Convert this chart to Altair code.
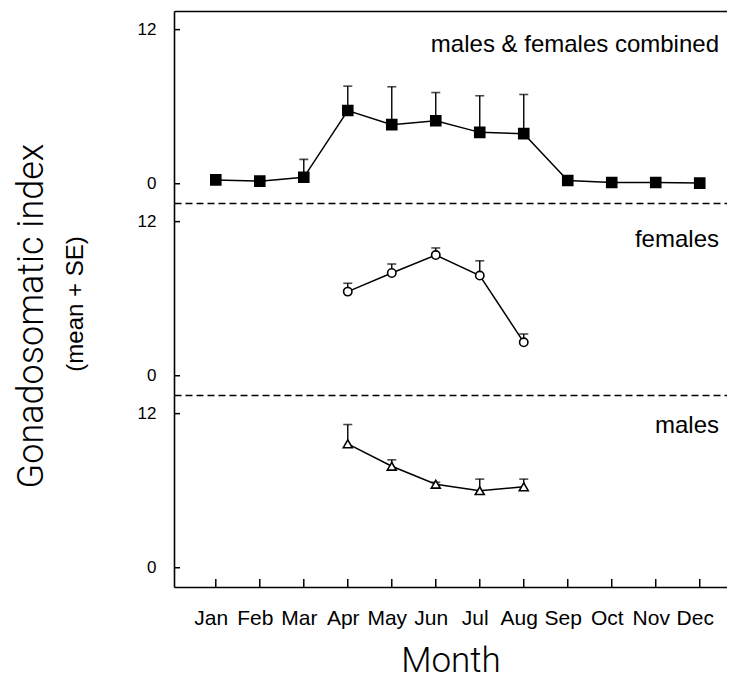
import json
import altair as alt
import pandas as pd

# ---------------- data ----------------
MONTHS = ["Jan", "Feb", "Mar", "Apr", "May", "Jun", "Jul", "Aug", "Sep", "Oct", "Nov", "Dec"]
MONTH_NUM = list(range(1, 13))

COMBINED_MEAN = [0.3, 0.2, 0.5, 5.7, 4.6, 4.9, 4.0, 3.9, 0.25, 0.1, 0.1, 0.05]
COMBINED_SE = [0, 0, 1.4, 1.9, 2.95, 2.2, 2.85, 3.05, 0, 0, 0, 0]

FEMALE_MONTH_NUM = [4, 5, 6, 7, 8]
FEMALE_MEAN = [6.55, 8.0, 9.4, 7.8, 2.6]
FEMALE_SE = [0.65, 0.7, 0.55, 1.15, 0.65]

MALE_MONTH_NUM = [4, 5, 6, 7, 8]
MALE_MEAN = [9.65, 7.9, 6.5, 6.0, 6.3]
MALE_SE = [1.5, 0.5, 0.15, 0.9, 0.6]

Y_TICKS = [0, 12]
PANEL_LABELS = ["males & females combined", "females", "males"]
Y_TITLE = "Gonadosomatic index"
Y_SUBTITLE = "(mean + SE)"
X_TITLE = "Month"


def frame(months, mean, se):
    return pd.DataFrame({
        "m": months,
        "mean": mean,
        "se": se,
        "top": [a + b for a, b in zip(mean, se)],
    })


df_comb = frame(MONTH_NUM, COMBINED_MEAN, COMBINED_SE)
df_fem = frame(FEMALE_MONTH_NUM, FEMALE_MEAN, FEMALE_SE)
df_male = frame(MALE_MONTH_NUM, MALE_MEAN, MALE_SE)
df_yticks = pd.DataFrame({"v": Y_TICKS})
df_xticks = pd.DataFrame({"m": MONTH_NUM})

# ---------------- style ----------------
W, H = 553, 192
LABEL_FONT = "Liberation Sans"
TITLE_FONT = "Roboto"
xscale = alt.Scale(domain=[0.05, 12.62], nice=False, zero=False)
yscale = alt.Scale(domain=[-1.5, 13.45], nice=False, zero=False)

yaxis = alt.Axis(
    orient="left", values=Y_TICKS, title=None, grid=False, ticks=False, tickSize=0,
    domainColor="black", domainWidth=1.6,
    labelFont=LABEL_FONT, labelFontSize=17, labelColor="black", labelPadding=18,
)

dashed_bottom = alt.Axis(
    orient="bottom", labels=False, ticks=False, title=None, grid=False,
    domainDash=[7, 4], domainColor="black", domainWidth=1.5,
)
solid_top = alt.Axis(
    orient="top", labels=False, ticks=False, title=None, grid=False,
    domainColor="black", domainWidth=1.6,
)
month_axis = alt.Axis(
    orient="bottom", values=MONTH_NUM,
    labelExpr=json.dumps(MONTHS) + "[datum.value - 1]",
    labelOverlap=False, labelFlush=False, labelBound=False,
    labelFont=LABEL_FONT, labelFontSize=21, labelColor="black",
    labelPadding=20, labelOffset=-5,
    ticks=False, tickSize=0,
    domainColor="black", domainWidth=1.6, grid=False,
    title=X_TITLE, titleFont=TITLE_FONT, titleFontWeight=300,
    titleFontSize=35, titleColor="black", titlePadding=15,
)


def ytick_layer():
    return alt.Chart(df_yticks).mark_rule(color="black", strokeWidth=1.5).encode(
        y=alt.Y("v:Q", scale=yscale, axis=None),
        x=alt.value(0), x2=alt.value(6),
    )


def panel(df, shape, size, fill, label, label_y, bottom_axis, with_top=False, extra=None):
    base = alt.Chart(df)
    has_err = base.transform_filter("datum.se > 0")
    err = has_err.mark_rule(color="black", strokeWidth=1.4).encode(
        x=alt.X("m:Q", scale=xscale, axis=None),
        y=alt.Y("mean:Q", scale=yscale, axis=None),
        y2="top:Q",
    )
    cap = has_err.mark_tick(orient="horizontal", size=9, thickness=1.6, color="black").encode(
        x=alt.X("m:Q", scale=xscale, axis=solid_top if with_top else None),
        y=alt.Y("top:Q", scale=yscale, axis=None),
    )
    line = base.mark_line(color="black", strokeWidth=1.5).encode(
        x=alt.X("m:Q", scale=xscale, axis=bottom_axis),
        y=alt.Y("mean:Q", scale=yscale, axis=yaxis),
    )
    pts = base.mark_point(
        shape=shape, size=size, filled=True, fill=fill, stroke="black",
        strokeWidth=1.6, opacity=1,
    ).encode(
        x=alt.X("m:Q", scale=xscale, axis=None),
        y=alt.Y("mean:Q", scale=yscale, axis=None),
    )
    txt = alt.Chart(pd.DataFrame({"t": [label]})).mark_text(
        align="right", baseline="alphabetic", font=LABEL_FONT, fontSize=24, color="black",
    ).encode(x=alt.value(545), y=alt.value(label_y), text="t:N")
    layers = [ytick_layer(), err, cap, line, pts, txt]
    if extra:
        layers += extra
    return (
        alt.layer(*layers)
        .resolve_axis(x="independent", y="independent")
        .properties(width=W, height=H)
    )


ytitle = alt.Chart(pd.DataFrame({"t": [Y_TITLE]})).mark_text(
    angle=270, align="center", baseline="alphabetic", font=TITLE_FONT,
    fontWeight=300, fontSize=36, color="black",
).encode(x=alt.value(-131), y=alt.value(113), text="t:N")
ysub = alt.Chart(pd.DataFrame({"t": [Y_SUBTITLE]})).mark_text(
    angle=270, align="center", baseline="alphabetic", font=LABEL_FONT,
    fontSize=24, color="black",
).encode(x=alt.value(-91), y=alt.value(101), text="t:N")
xticks = alt.Chart(df_xticks).mark_rule(color="black", strokeWidth=1.5).encode(
    x=alt.X("m:Q", scale=xscale, axis=None),
    y=alt.value(H), y2=alt.value(H - 8),
)

top = panel(df_comb, "square", 100, "black", PANEL_LABELS[0], 41, dashed_bottom, with_top=True)
mid = panel(df_fem, "circle", 70, "white", PANEL_LABELS[1], 44, dashed_bottom, extra=[ytitle, ysub])
bot = panel(df_male, "triangle-up", 80, "white", PANEL_LABELS[2], 38, month_axis, extra=[xticks])

chart = alt.VConcatChart(
    vconcat=[top, mid, bot], spacing=0, bounds="flush", background="white",
    padding={"left": 5, "top": 3, "right": 0, "bottom": 4},
).configure_view(stroke=None)

chart.save("out.html", embed_options={"renderer": "svg", "actions": False})
